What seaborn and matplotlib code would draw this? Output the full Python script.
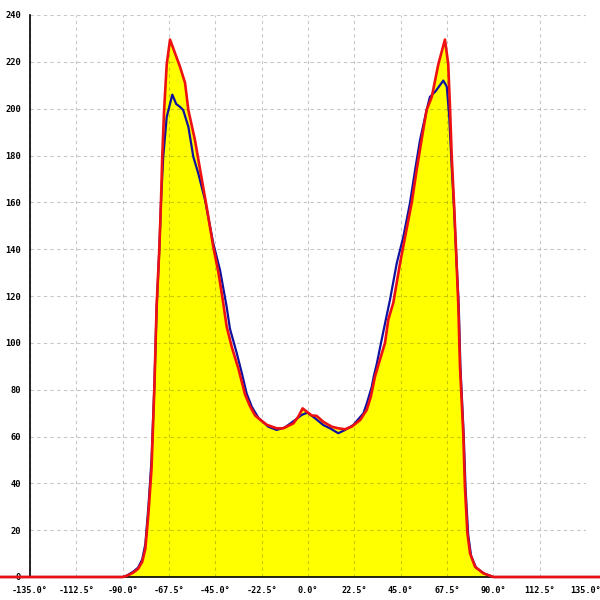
import matplotlib
matplotlib.use("Agg")
import matplotlib.pyplot as plt
import seaborn as sns
import pandas as pd

# Series
angle_red = [-150, -90, -88, -85, -82.5, -80.5, -79, -77.5, -76, -74.6, -73.5, -72.2, -71.4,
             -70.8, -69.9, -68.6, -67, -62.2, -59.7, -58.1, -54.9, -52.4, -49.2, -46, -43.5,
             -41.5, -39.5, -37.1, -33.8, -30.6, -28.2, -25.7, -23, -20, -15.2, -12, -7.1,
             -4.7, -2.6, -0.6, 1.8, 4.2, 7.4, 11.5, 14.7, 18, 21.2, 25.3, 28.5, 30.5, 32.5,
             35, 37.4, 39, 41.4, 44.7, 47.1, 50.4, 52.8, 55.2, 57.6, 60.1, 63.3, 66.5, 68.1,
             69, 69.8, 70.9, 71.9, 73, 73.8, 75.4, 76.2, 77.4, 78.7, 81.1, 85.1, 90, 142]
count_red = [0, 0, 0.5, 1.8, 3.5, 6.5, 12, 27, 46, 81, 116, 140, 160,
             179, 199, 219, 229.5, 218, 211, 199.4, 186.6, 174, 158, 141, 130,
             119, 107, 98.5, 89, 78, 73, 69, 67, 65, 63.5, 63.5, 65.6,
             68.5, 72, 70.6, 69, 68.8, 66.3, 64.2, 63.5, 63.1, 64.2, 67, 71.3, 77, 85.5,
             93, 100, 110, 117, 134, 145, 160, 174, 187, 199.4, 205, 219, 229.5, 219,
             199.4, 179.5, 159.6, 139.6, 116, 90, 61.4, 38.6, 18.7, 10.1, 4.4, 1.6, 0, 0]

angle_blue = [-150, -90, -88, -85, -82.5, -80.5, -79, -77.5, -76, -74.6, -73.5, -72.2, -71.4,
              -70.3, -68.6, -65.9, -64, -62.2, -60.6, -58.1, -55.7, -53.3, -50, -46, -42.7,
              -39.5, -37.9, -34.6, -32.2, -29.8, -27.3, -24.1, -19.3, -15.2, -11.2, -6.3,
              -3.1, -0.3, 3.4, 7.4, 10.7, 14.7, 18, 22, 26.9, 28.5, 30.9, 32, 33.4, 35, 37.4,
              39.8, 43.1, 46.3, 49.5, 52, 54.4, 57.6, 59.2, 62, 65.7, 67.4, 68.6, 69.8, 70.9,
              71.9, 73.2, 74, 75.6, 76.5, 77.8, 79.2, 81.6, 85.5, 90, 142]
count_blue = [0, 0, 0.6, 2.2, 4, 7.5, 14, 30, 50, 82, 115, 140, 160,
              179.5, 196.5, 206, 202, 200.8, 199.4, 192.3, 179.5, 172.4, 161, 142.5, 131,
              115.4, 106, 95.6, 87.3, 78.4, 72.7, 68, 64.2, 62.8, 63.9, 67,
              69.2, 70.2, 67.8, 64.9, 63.5, 61.4, 62.8, 64.9, 69.9, 74, 81, 86, 91, 98, 108.3,
              118.3, 134, 145.3, 159.6, 173.8, 186.6, 199.4, 205, 207.5, 212, 209.4, 196.5, 175, 158,
              139, 116, 90, 61, 38, 18, 9, 4, 1.5, 0, 0]

x_ticks = [-135, -112.5, -90, -67.5, -45, -22.5, 0, 22.5, 45, 67.5, 90, 112.5, 135]
y_ticks = [0, 20, 40, 60, 80, 100, 120, 140, 160, 180, 200, 220, 240]

df_red = pd.DataFrame({"angle": angle_red, "count": count_red})
df_blue = pd.DataFrame({"angle": angle_blue, "count": count_blue})

sns.set_style("white")
fig = plt.figure(figsize=(6, 6), dpi=100)
ax = fig.add_axes([30 / 600, 23 / 600, 556 / 600, 562 / 600])

ax.fill_between(df_red["angle"], df_red["count"], 0, color="#ffff00", zorder=1,
                linewidth=0, clip_on=False)
sns.lineplot(data=df_blue, x="angle", y="count", ax=ax, color="#1010a0", linewidth=1.6,
             zorder=4, clip_on=False)
sns.lineplot(data=df_red, x="angle", y="count", ax=ax, color="#ee1111", linewidth=1.9,
             zorder=5, clip_on=False)

ax.set_xlim(-135, 135)
ax.set_ylim(0, 240)
ax.set_xticks(x_ticks)
ax.set_yticks(y_ticks)
ax.set_xticklabels([f"{v:.1f}°" for v in x_ticks], fontfamily="DejaVu Sans Mono",
                   fontweight="bold", fontsize=6.1)
ax.set_yticklabels([str(v) for v in y_ticks], fontfamily="DejaVu Sans Mono",
                   fontweight="bold", fontsize=6.3)
ax.set_xlabel("")
ax.set_ylabel("")

ax.set_axisbelow("line")
ax.grid(True, color="black", alpha=0.22, linestyle=(0, (3, 3)), linewidth=0.8)

for s in ["top", "right"]:
    ax.spines[s].set_visible(False)
for s in ["left", "bottom"]:
    ax.spines[s].set_color("black")
    ax.spines[s].set_linewidth(1.2)
ax.tick_params(axis="both", direction="out", length=4, width=1, color="black",
               pad=2.5, labelcolor="black")

fig.savefig("out.png", dpi=100)
